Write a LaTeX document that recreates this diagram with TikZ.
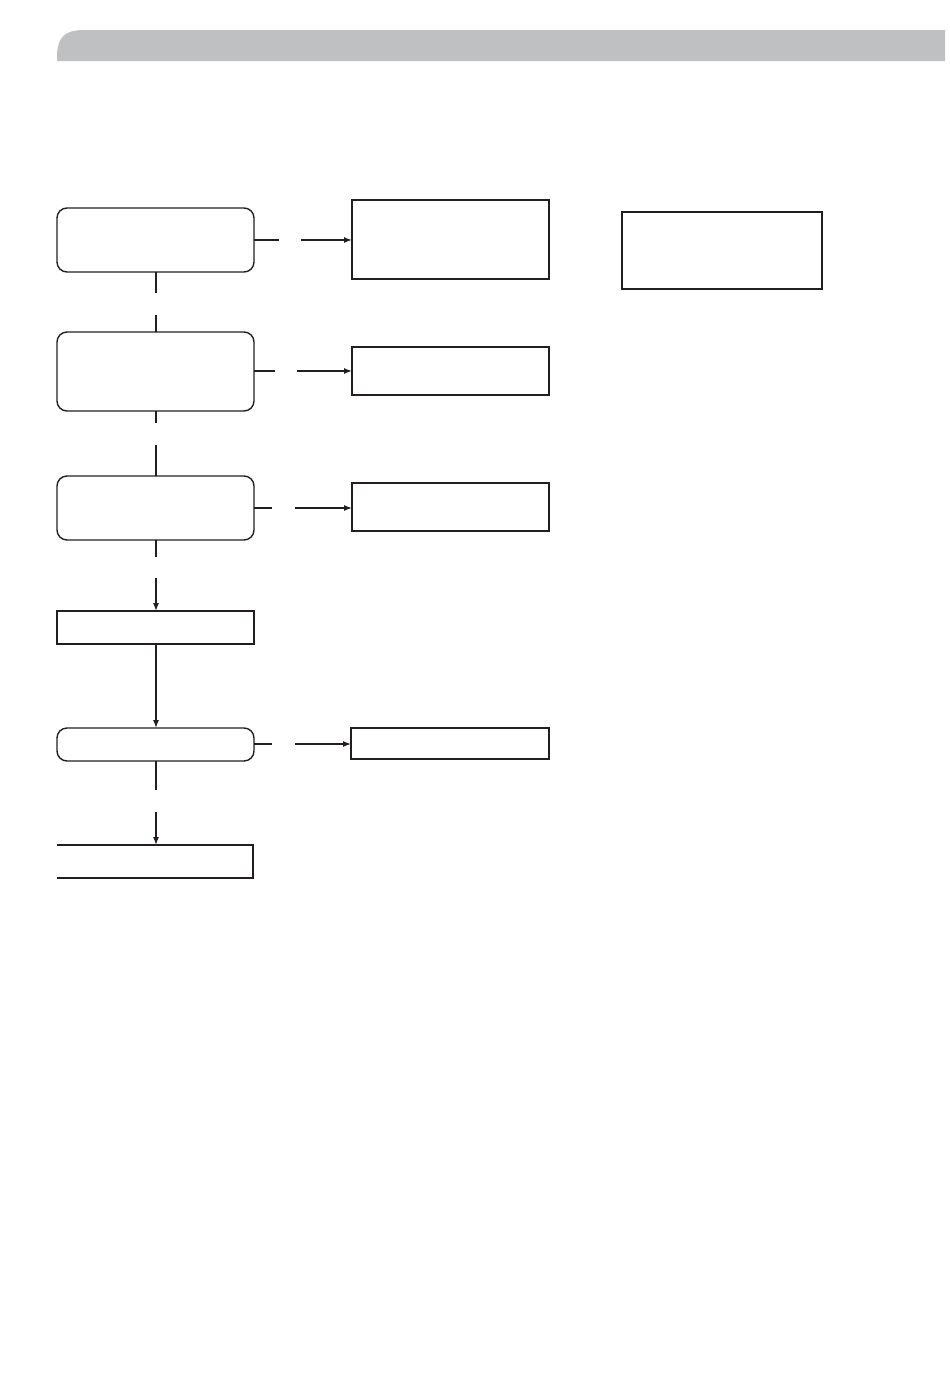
\documentclass[tikz,border=0pt]{standalone}
\usetikzlibrary{arrows.meta}
\definecolor{barg}{HTML}{BFC0C2}
\definecolor{ink}{HTML}{231F20}
\begin{document}
\begin{tikzpicture}[x=1pt,y=-1pt,
  every node/.style={inner sep=0pt,outer sep=0pt,anchor=north west},
  rbox/.style={draw=ink,line width=1.4pt,rounded corners=10pt},
  sbox/.style={draw=ink,line width=1.3pt},
  ln/.style={draw=ink,line width=1.3pt},
  arr/.style={ln,-{Latex[length=8pt,width=6pt]}}]
\useasboundingbox (0,0) rectangle (950,1379);
% header bar
\fill[barg] (57,61) -- (57,54) .. controls (58,38) and (64,30) .. (84,30) -- (945,30) -- (945,61) -- cycle;
% nodes
\node[rbox,minimum width=197pt,minimum height=64pt] (A) at (57,208) {};
\node[sbox,minimum width=197pt,minimum height=79pt] (B1) at (352,200) {};
\node[rbox,minimum width=197pt,minimum height=79pt] (C) at (57,332) {};
\node[sbox,minimum width=197pt,minimum height=48pt] (B2) at (352,347) {};
\node[rbox,minimum width=197pt,minimum height=64pt] (D) at (57,476) {};
\node[sbox,minimum width=197pt,minimum height=48pt] (B3) at (352,483) {};
\node[sbox,minimum width=197pt,minimum height=33pt] (E) at (57,611) {};
\node[rbox,minimum width=197pt,minimum height=33pt] (F) at (57,728) {};
\node[sbox,minimum width=198pt,minimum height=31pt] (B4) at (351,728) {};
\node[minimum width=196pt,minimum height=33pt] (G) at (57,845) {};
\draw[ln] (G.north west) -- (G.north east) -- (G.south east) -- (G.south west);
\node[sbox,minimum width=200pt,minimum height=77pt] (R) at (622,212) {};
% gap coordinates
\coordinate (a1) at (279,240); \coordinate (a2) at (301,240);
\coordinate (c1) at (275,371); \coordinate (c2) at (297,371);
\coordinate (d1) at (272,508); \coordinate (d2) at (295,508);
\coordinate (f1) at (272,744); \coordinate (f2) at (295,744);
\coordinate (av1) at (156,293); \coordinate (av2) at (156,315);
\coordinate (cv1) at (156,423); \coordinate (cv2) at (156,445);
\coordinate (dv1) at (156,557); \coordinate (dv2) at (156,578);
\coordinate (fv1) at (156,790); \coordinate (fv2) at (156,812);
% right connectors
\draw[ln] (A.east |- a1) -- (a1);
\draw[arr] (a2) -- (B1.west |- a2);
\draw[ln] (C.east |- c1) -- (c1);
\draw[arr] (c2) -- (B2.west |- c2);
\draw[ln] (D.east |- d1) -- (d1);
\draw[arr] (d2) -- (B3.west |- d2);
\draw[ln] (F.east |- f1) -- (f1);
\draw[arr] (f2) -- (B4.west |- f2);
% vertical connectors
\draw[ln] (A.south -| av1) -- (av1);
\draw[ln] (av2) -- (C.north -| av2);
\draw[ln] (C.south -| cv1) -- (cv1);
\draw[ln] (cv2) -- (D.north -| cv2);
\draw[ln] (D.south -| dv1) -- (dv1);
\draw[arr] (dv2) -- (E.north -| dv2);
\draw[arr] (E.south -| dv2) -- (F.north -| dv2);
\draw[ln] (F.south -| fv1) -- (fv1);
\draw[arr] (fv2) -- (G.north -| fv2);
\end{tikzpicture}
\end{document}
